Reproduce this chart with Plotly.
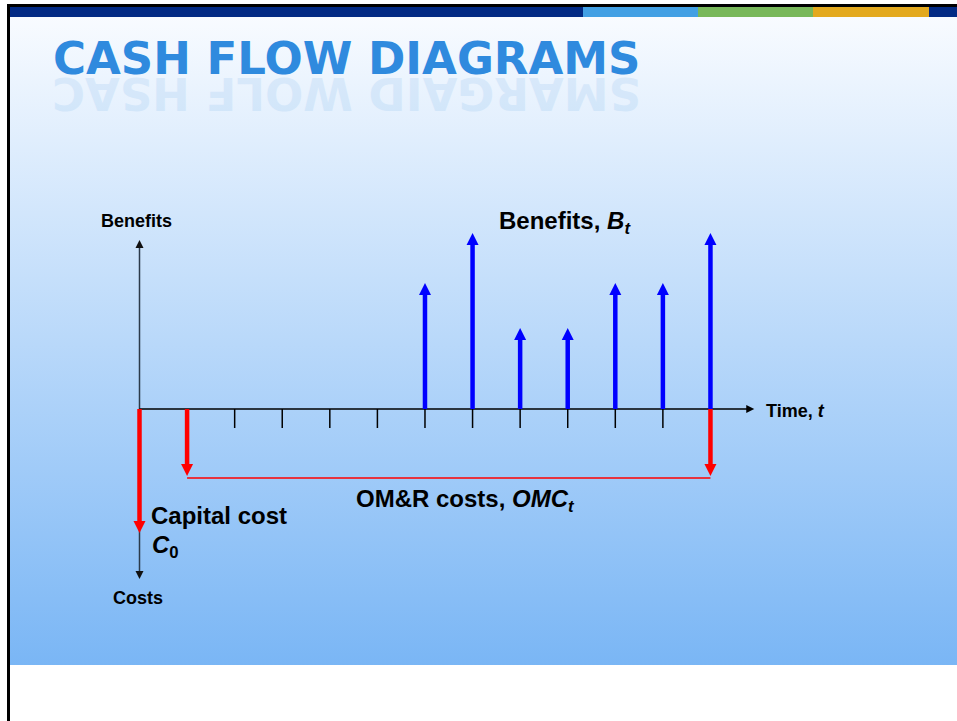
import plotly.graph_objects as go

# ---------------- data ----------------
years = [0, 1, 2, 3, 4, 5, 6, 7, 8, 9, 10, 11, 12]          # time axis t
benefit_years = [6, 7, 8, 9, 10, 11, 12]
benefit_values = [126, 176, 81, 81, 126, 126, 176]           # relative magnitude of B_t
capital_cost_years = [0]
capital_cost_values = [124]                                   # C_0
omc_years = [1, 2, 3, 4, 5, 6, 7, 8, 9, 10, 11, 12]
omc_values = [67, 67, 67, 67, 67, 67, 67, 67, 67, 67, 67, 67]  # OMC_t (constant)

# ---------------- geometry / style ----------------
W, H = 957, 721
X0_PX, PX_PER_T = 139.5, 47.58      # pixel of t=0 and pixels per year
Y0_PX = 409                         # pixel of value 0 (1 unit = 1 px)
HEAD = 12                           # arrowhead size
AXIS_TOP, AXIS_BOTTOM, AXIS_RIGHT = 169, -170, 12.92
TICK_LEN = 19
BLUE, RED = "#0000ff", "#ff0000"
FONT = "Liberation Sans, Arial, sans-serif"


def dx(px):
    return (px - X0_PX) / PX_PER_T


def dy(px):
    return Y0_PX - px


def px_x(px):
    return px / W


def px_y(px):
    return 1 - px / H


fig = go.Figure()

# slide background gradient
fig.add_trace(go.Scatter(
    x=[dx(10), dx(W), dx(W), dx(10), dx(10)],
    y=[dy(17), dy(17), dy(665), dy(665), dy(17)],
    mode="lines", line=dict(width=0), fill="toself",
    fillgradient=dict(type="vertical",
                      colorscale=[[0, "#7ab6f5"], [1, "#f8fbff"]]),
    hoverinfo="skip", showlegend=False))

# vertical (benefits / costs) axis
fig.add_trace(go.Scatter(x=[0, 0], y=[AXIS_BOTTOM + 6, AXIS_TOP - 6], mode="lines",
                         line=dict(color="#2b3a4a", width=1.5),
                         hoverinfo="skip", showlegend=False))
fig.add_trace(go.Scatter(x=[0, 0], y=[AXIS_TOP, AXIS_BOTTOM], mode="markers",
                         marker=dict(symbol=["arrow-up", "arrow-down"], size=8,
                                     color="#111111", line=dict(width=0)),
                         hoverinfo="skip", showlegend=False))
# time axis
fig.add_trace(go.Scatter(x=[0, AXIS_RIGHT - 0.12], y=[0, 0], mode="lines",
                         line=dict(color="#000000", width=1.5),
                         hoverinfo="skip", showlegend=False))
fig.add_trace(go.Scatter(x=[AXIS_RIGHT], y=[0], mode="markers",
                         marker=dict(symbol="arrow-right", size=8, color="#000000",
                                     line=dict(width=0)),
                         hoverinfo="skip", showlegend=False))
# ticks
tx, ty = [], []
for t in years[1:]:
    tx += [t, t, None]
    ty += [0, -TICK_LEN, None]
fig.add_trace(go.Scatter(x=tx, y=ty, mode="lines", line=dict(color="#000000", width=1.5),
                         hoverinfo="skip", showlegend=False))

# costs (red, downward)
cost_x = capital_cost_years + [omc_years[0], omc_years[-1]]
cost_v = capital_cost_values + [omc_values[0], omc_values[-1]]
sx, sy = [], []
for t, v in zip(cost_x, cost_v):
    sx += [t, t, None]
    sy += [0, -(v - HEAD + 2), None]
fig.add_trace(go.Scatter(x=sx, y=sy, mode="lines", line=dict(color=RED, width=4.5),
                         hoverinfo="skip", showlegend=False))
fig.add_trace(go.Scatter(x=cost_x, y=[-v for v in cost_v], mode="markers",
                         marker=dict(symbol="arrow-down", size=HEAD, color=RED,
                                     line=dict(width=0)),
                         hoverinfo="skip", showlegend=False))
# OM&R span line
fig.add_trace(go.Scatter(x=[omc_years[0], omc_years[-1]],
                         y=[-(omc_values[0] + 2), -(omc_values[-1] + 2)],
                         mode="lines", line=dict(color=RED, width=1.5),
                         hoverinfo="skip", showlegend=False))

# benefits (blue, upward)
bx, by = [], []
for t, v in zip(benefit_years, benefit_values):
    bx += [t, t, None]
    by += [0, v - HEAD + 2, None]
fig.add_trace(go.Scatter(x=bx, y=by, mode="lines", line=dict(color=BLUE, width=4.5),
                         hoverinfo="skip", showlegend=False))
fig.add_trace(go.Scatter(x=benefit_years, y=benefit_values, mode="markers",
                         marker=dict(symbol="arrow-up", size=HEAD, color=BLUE,
                                     line=dict(width=0)),
                         hoverinfo="skip", showlegend=False))

# ---------------- slide decorations ----------------
shapes = []


def rect(x0, y0, x1, y1, color):
    shapes.append(dict(type="rect", xref="paper", yref="paper",
                       x0=px_x(x0), x1=px_x(x1), y0=px_y(y1), y1=px_y(y0),
                       fillcolor=color, line=dict(width=0), layer="above"))


rect(7, 4, W, 7, "#000000")
rect(10, 7, 583, 17, "#022a84")
rect(583, 7, 698, 17, "#42a0e4")
rect(698, 7, 813, 17, "#78b85a")
rect(813, 7, 929, 17, "#e3a91e")
rect(929, 7, W, 17, "#022a84")
rect(7, 4, 10, H, "#000000")

annotations = []


def label(text, x, y, size, xanchor="left", family=FONT, color="#000000", **kw):
    annotations.append(dict(text=text, x=px_x(x), y=px_y(y), xref="paper", yref="paper",
                            xanchor=xanchor, yanchor="middle", showarrow=False,
                            font=dict(family=family, size=size, color=color), **kw))


label("<b>CASH FLOW DIAGRAMS</b>", 346.5, 59, 45, xanchor="center",
      family="DejaVu Sans, sans-serif", color="#2f8ade")
label("<b>SMARGAID WOLF HSAC</b>", 346.5, 93, 45, xanchor="center",
      family="DejaVu Sans, sans-serif", color="#2f8ade", textangle=180, opacity=0.1)
label("<b>Benefits</b>", 136.5, 221.5, 18, xanchor="center")
label("<b>Costs</b>", 138, 598, 18, xanchor="center")
label("<b>Time, <i>t</i></b>", 764, 410.5, 18)
label("<b>Benefits, <i>B<sub>t</sub></i></b>", 497, 222.5, 24)
label("<b>OM&amp;R costs, <i>OMC<sub>t</sub></i></b>", 354, 500.5, 24)
label("<b>Capital cost</b>", 149, 515, 24)
label("<b><i>C</i><sub>0</sub></b>", 150, 546, 24)

fig.update_layout(
    width=W, height=H, margin=dict(l=0, r=0, t=0, b=0),
    paper_bgcolor="#ffffff", plot_bgcolor="rgba(0,0,0,0)",
    xaxis=dict(range=[dx(0), dx(W)], visible=False, fixedrange=True),
    yaxis=dict(range=[dy(H), dy(0)], visible=False, fixedrange=True),
    showlegend=False, hovermode=False,
    shapes=shapes, annotations=annotations,
)

# remove the page's default 8px body margin so the figure fills the window
fig.write_html("out.html", config={"displayModeBar": False},
               post_script="document.body.style.margin='0px';")
